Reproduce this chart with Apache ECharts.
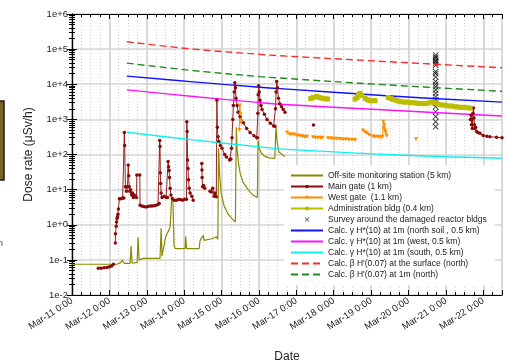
<!DOCTYPE html>
<html>
<head>
<meta charset="utf-8">
<script src="https://cdn.jsdelivr.net/npm/echarts@6/dist/echarts.min.js"></script>
<style>
  html, body { margin: 0; padding: 0; background: #fff; }
  #chart { width: 506px; height: 360px; }
</style>
</head>
<body>
<div id="chart"></div>
<script>
// time = hours since Mar-11 0:00
const dayLabels = ['Mar-11 0:00', 'Mar-12 0:00', 'Mar-13 0:00', 'Mar-14 0:00', 'Mar-15 0:00', 'Mar-16 0:00',
  'Mar-17 0:00', 'Mar-18 0:00', 'Mar-19 0:00', 'Mar-20 0:00', 'Mar-21 0:00', 'Mar-22 0:00'];
const decadeLabels = ['1e-2', '1e-1', '1e+0', '1e+1', '1e+2', '1e+3', '1e+4', '1e+5', '1e+6'];

const offsiteData = [
  [0, 0.075], [28.9, 0.075], [31.5, 0.085], [32.1, 0.1], [33.4, 0.08], [37.3, 0.08], [37.9, 0.25], [38.6, 0.08],
  [41.8, 0.085], [42.4, 0.44], [43.1, 0.1], [45.6, 0.11], [56.5, 0.11], [57.2, 0.8], [57.8, 0.13], [58.7, 0.14],
  [60.1, 0.45], [61.0, 0.55], [63.0, 0.85], [63.9, 5], [64.7, 6.3], [65.5, 0.26], [66.2, 0.21], [72.6, 0.21],
  [73.0, 0.46], [73.5, 0.21], [81.6, 0.21], [82.2, 0.36], [84.3, 0.5], [84.8, 0.36], [89.7, 0.4], [89.9, 0.36],
  [92.9, 0.45], [93.6, 0.38], [94.1, 150], [94.7, 30], [95.7, 8], [97.6, 3.5], [100.2, 2], [102.7, 1.5],
  [104.9, 1.2], [105.1, 15], [105.5, 600], [105.9, 150], [106.8, 60], [107.9, 30], [109.8, 16], [112.4, 11],
  [114.3, 8.5], [116.2, 7], [119.0, 6], [119.4, 250], [120.2, 150], [121.5, 110], [123.5, 90], [126.7, 80],
  [130.2, 78], [130.9, 600], [131.6, 250], [132.7, 120], [134.8, 100], [136.7, 87]
];

const mainGateData = [
  [16.9, 0.058], [18.7, 0.058], [20.6, 0.06], [22.5, 0.061], [24.1, 0.064], [25.4, 0.067], [26.6, 0.075], null,
  [27.8, 0.3], [27.9, 0.55], [28.4, 0.9], [28.6, 1.2], [28.9, 1.5], [29.2, 1.7], [29.5, 2.0], [29.8, 2.8],
  [30.4, 5.5], [31.5, 5.5], [32.5, 5.8], [33.3, 5.8], [33.6, 420], [33.8, 180], [34.3, 12], [35.0, 9],
  [35.6, 12], [36.1, 50], [36.4, 25], [36.7, 12], [37.1, 9], [37.6, 10], [38.2, 7], [38.8, 8], [39.4, 6],
  [40.0, 7], [41.4, 6], [41.6, 26], [43.5, 26], [43.7, 3.6], [44.8, 3.4], [46.0, 3.3], [47.3, 3.2], [48.6, 3.3],
  [50.0, 3.4], [51.3, 3.4], [52.6, 3.5], [53.9, 3.6], [55.2, 3.8], [56.0, 4.0], [56.3, 250], [56.5, 170],
  [56.7, 30], [56.9, 15], [57.2, 8], [57.8, 6], [59.1, 6.5], [60.4, 6], [61.3, 6], [61.7, 63], [62.0, 45],
  [62.3, 35], [62.6, 22], [63.0, 11], [63.5, 7], [64.4, 5.5], [65.7, 5], [67.0, 5], [68.3, 5.2], [69.6, 5.2],
  [70.9, 5], [72.2, 5.3], [73.5, 5.3], [73.7, 850], [73.9, 450], [74.2, 70], [74.5, 40], [74.8, 19], [75.2, 11],
  [75.8, 8], [76.9, 6.5], [77.8, 5], null,
  [83.3, 55], [83.4, 36], [83.5, 22], [83.8, 12], [84.5, 13], [85.2, 11], null,
  [88.6, 9], [89.5, 8.5], [90.3, 11], [91.2, 6.5], [91.8, 8], [92.6, 6.3], [93.0, 3500], [93.3, 600],
  [93.7, 320], [94.2, 240], [95.2, 180], [96.3, 150], [98.0, 100], [99.1, 85], [101.2, 70], [102.0, 75],
  [102.4, 150], [102.7, 300], [103.2, 1000], [103.6, 2500], [104.1, 6000], [104.5, 11000], [104.9, 8000],
  [105.3, 4000], [106.0, 2500], [106.6, 1600], [107.9, 1200], [110.0, 800], [112.1, 550], [114.3, 420],
  [116.8, 340], [118.6, 300], [119.0, 300], [119.3, 1500], [119.5, 5000], [119.8, 9000], [120.2, 6000],
  [120.7, 3500], [121.3, 2500], [122.0, 1900], [123.5, 1400], [125.2, 1000], [127.3, 780], [129.4, 650],
  [130.2, 640], [130.6, 2000], [131.0, 6000], [131.4, 12000], [131.9, 8000], [132.5, 4000], [133.3, 2800],
  [134.5, 2300], [135.6, 1900], [136.7, 1600], null,
  [155.0, 690], null,
  [255.7, 1000], [256.2, 1300], [256.4, 700], [256.8, 1000], [257.0, 550], [257.4, 1500], [257.7, 2100],
  [258.0, 1100], [258.3, 700], [258.6, 550], [259.1, 600], [259.7, 450], [260.5, 420], [261.8, 400],
  [263.9, 350], [266.3, 330], [268.2, 320], [272.5, 310], [276.0, 300]
];

const westGateData = [
  [107.4, 500], [107.7, 2500], [108.1, 1400], [108.5, 800], null,
  [138.0, 420], [139.6, 380], [141.2, 370], [142.8, 370], [144.5, 350], [146.1, 340], [147.7, 330],
  [149.3, 320], [150.9, 320], null,
  [154.7, 310], [156.3, 300], [157.9, 300], [159.5, 300], [160.8, 300], null,
  [164.3, 290], [166.3, 290], [168.2, 280], [170.1, 280], [172.0, 275], [174.0, 270], [175.9, 270],
  [177.8, 265], [179.7, 265], [181.7, 260], null,
  [186.8, 480], [188.1, 430], [189.4, 400], [190.7, 360], [193.2, 330], [194.8, 320], [196.4, 320],
  [198.0, 310], [199.3, 320], [199.8, 850], [200.1, 550], [200.5, 700], [200.9, 480], [201.4, 420],
  [202.0, 340], null,
  [220.8, 270]
];

const adminData = [
  [153.2, 3900], [154.7, 4200], [157.1, 4500], [158.6, 4200], [160.5, 4000], [162.4, 3900], [164.1, 3800], null,
  [181.7, 3800], [183.0, 4200], [183.8, 5000], [184.9, 5500], [186.2, 4800], [188.1, 4000], [189.7, 3600],
  [191.3, 3400], [192.9, 3400], [194.5, 3400], null,
  [203.0, 4200], [204.8, 3900], [206.4, 3700], [208.0, 3500], [209.6, 3300], [211.2, 3200], [213.1, 3100],
  [215.0, 3100], [217.0, 3000], [218.9, 3000], [220.8, 2900], [222.7, 2850], [224.7, 2800], [226.6, 2800],
  [228.5, 2900], [230.4, 3100], [232.4, 3000], [234.3, 2800], [236.2, 2600], [238.1, 2550], [240.1, 2500],
  [242.0, 2400], [243.9, 2400], [245.8, 2300], [247.7, 2250], [249.7, 2200], [251.6, 2200], [253.5, 2150],
  [255.5, 2100]
];

const surveyTime = 233.4;
const surveyValues = [68000, 60000, 55000, 48000, 44000, 39000, 35000, 23000, 20000, 16000, 12000, 10000,
  8500, 6900, 5500, 4400, 3600, 2900, 2300, 1650, 1200, 850, 620];

const calcTimes = [35.2, 77.9, 120.7, 133.5, 202, 276];
const gammaNorth = [17000, 11700, 8200, 7500, 4700, 3100];
const gammaWest = [6900, 4500, 3000, 2700, 1850, 1250];
const gammaSouth = [430, 260, 165, 145, 100, 78];
const betaSurface = [162000, 100000, 71000, 65000, 44000, 29500];
const betaOneMeter = [40000, 24500, 16500, 15000, 9600, 6300];

const FONT = 'Liberation Sans, Arial, sans-serif';
const pair = (ts, vs) => ts.map((t, i) => [t, vs[i]]);

const yMinor = [];
for (let e = -2; e < 6; e++) {
  for (let m = 2; m <= 9; m++) yMinor.push(+(m * Math.pow(10, e)).toPrecision(3));
}

const majorGrid = { show: true, lineStyle: { color: '#d4d4d4', width: 1.6 } };
const minorGrid = { show: true, lineStyle: { color: '#c8c8c8', width: 0.8, type: [1, 2] } };
const noSymbol = { opacity: 0 };

const chart = echarts.init(document.getElementById('chart'), null, { renderer: 'canvas' });

chart.setOption({
  animation: false,
  backgroundColor: '#fff',
  textStyle: { fontFamily: FONT },
  grid: { left: 72, right: 4, top: 14, bottom: 65, outerBoundsMode: 'none' },
  graphic: [
    { type: 'rect', shape: { x: -3, y: 101, width: 7, height: 79 },
      style: { fill: '#7a6420', stroke: '#1a1a1a', lineWidth: 1.5 } },
    { type: 'text', x: -2, y: 239, style: { text: 'n', fontSize: 9, fill: '#333', fontFamily: FONT } }
  ],
  legend: {
    orient: 'vertical',
    left: 284,
    top: 165,
    padding: [6, 8, 6, 6],
    backgroundColor: '#fff',
    itemWidth: 32,
    itemHeight: 4.5,
    itemGap: 2,
    textStyle: { fontSize: 8.5, color: '#222', fontFamily: FONT, lineHeight: 9 },
    data: [
      { name: 'Off-site monitoring station (5 km)', itemStyle: noSymbol },
      'Main gate (1 km)', 'West gate  (1.1 km)',
      'Administration bldg (0.4 km)', 'Survey around the damaged reactor bldgs',
      { name: 'Calc. γ H*(10) at 1m (north soil , 0.5 km)', itemStyle: noSymbol },
      { name: 'Calc. γ H*(10) at 1m (west, 0.5 km)', itemStyle: noSymbol },
      { name: 'Calc. γ H*(10) at 1m (south, 0.5 km)', itemStyle: noSymbol },
      { name: "Calc. β H'(0.07) at the surface (north)", itemStyle: noSymbol },
      { name: "Calc. β H'(0.07) at 1m (north)", itemStyle: noSymbol }
    ]
  },
  xAxis: [
    {
      type: 'value', position: 'bottom', min: 0, max: 276, interval: 24,
      name: 'Date', nameLocation: 'middle', nameGap: 56,
      nameTextStyle: { fontSize: 12, color: '#222', fontFamily: FONT },
      axisLine: { show: true, lineStyle: { color: '#000', width: 1.2 } },
      axisTick: { show: true, inside: true, length: 5, lineStyle: { color: '#000', width: 1 } },
      axisLabel: { rotate: 33, fontSize: 9.5, color: '#222', margin: 5, fontFamily: FONT,
        formatter: v => (v % 24 ? '' : dayLabels[v / 24]) },
      splitLine: majorGrid
    },
    {
      type: 'value', position: 'bottom', min: 0, max: 276, interval: 6,
      axisLine: { show: false }, axisLabel: { show: false },
      axisTick: { show: true, inside: true, length: 3, lineStyle: { color: '#000', width: 1 } },
      splitLine: minorGrid
    },
    {
      type: 'value', position: 'top', min: 0, max: 276, interval: 24,
      axisLine: { show: true, lineStyle: { color: '#000', width: 1.2 } },
      axisTick: { show: true, inside: true, length: 5, lineStyle: { color: '#000', width: 1 } },
      axisLabel: { show: false }, splitLine: { show: false }
    },
    {
      type: 'value', position: 'top', min: 0, max: 276, interval: 6,
      axisLine: { show: false }, axisLabel: { show: false },
      axisTick: { show: true, inside: true, length: 3, lineStyle: { color: '#000', width: 1 } },
      splitLine: { show: false }
    }
  ],
  yAxis: [
    {
      type: 'log', position: 'left', min: 0.01, max: 1e6, interval: 1,
      name: 'Dose rate (μSv/h)', nameLocation: 'middle', nameGap: 37,
      nameTextStyle: { fontSize: 12, color: '#222', fontFamily: FONT },
      axisLine: { show: true, lineStyle: { color: '#000', width: 1.2 } },
      axisTick: { show: true, inside: true, length: 5, lineStyle: { color: '#000', width: 1 } },
      axisLabel: { fontSize: 9.5, color: '#222', margin: 4, fontFamily: FONT,
        formatter: v => decadeLabels[Math.round(Math.log10(v)) + 2] },
      splitLine: majorGrid
    },
    {
      type: 'log', position: 'left', min: 0.01, max: 1e6,
      axisLine: { show: false }, axisLabel: { show: false },
      axisTick: { show: true, inside: true, length: 3, customValues: yMinor,
        lineStyle: { color: '#000', width: 1 } },
      splitLine: { show: false }
    },
    {
      type: 'log', position: 'right', min: 0.01, max: 1e6, interval: 1,
      axisLine: { show: true, lineStyle: { color: '#000', width: 1.2 } },
      axisTick: { show: true, inside: true, length: 5, lineStyle: { color: '#000', width: 1 } },
      axisLabel: { show: false }, splitLine: { show: false }
    },
    {
      type: 'log', position: 'right', min: 0.01, max: 1e6,
      axisLine: { show: false }, axisLabel: { show: false },
      axisTick: { show: true, inside: true, length: 3, customValues: yMinor,
        lineStyle: { color: '#000', width: 1 } },
      splitLine: { show: false }
    }
  ],
  series: [
    { name: 'Off-site monitoring station (5 km)', type: 'line', data: offsiteData, symbol: 'none',
      lineStyle: { color: '#8a8a00', width: 1.2 }, itemStyle: { color: '#8a8a00' } },
    { name: 'Main gate (1 km)', type: 'line', data: mainGateData, symbol: 'circle', symbolSize: 3.5,
      connectNulls: false, lineStyle: { color: '#8b0a0a', width: 0.9 }, itemStyle: { color: '#8b0a0a' } },
    { name: 'West gate  (1.1 km)', type: 'line', data: westGateData, symbol: 'triangle', symbolRotate: 180,
      symbolSize: 4, connectNulls: false, lineStyle: { color: '#ff8c00', width: 1 }, itemStyle: { color: '#ff8c00' } },
    { name: 'Administration bldg (0.4 km)', type: 'line', data: adminData, symbol: 'rect', symbolSize: 5,
      connectNulls: false, lineStyle: { color: '#bdbd00', width: 1 }, itemStyle: { color: '#bdbd00' } },
    { name: 'Survey around the damaged reactor bldgs', type: 'scatter',
      data: surveyValues.map(v => [surveyTime, v]),
      symbol: 'path://M0,1L1,0L5,4L9,0L10,1L6,5L10,9L9,10L5,6L1,10L0,9L4,5Z', symbolSize: 6,
      itemStyle: { color: '#000' } },
    { name: 'Calc. γ H*(10) at 1m (north soil , 0.5 km)', type: 'line', data: pair(calcTimes, gammaNorth),
      symbol: 'none', smooth: 0.4, lineStyle: { color: '#1010ff', width: 1.4 }, itemStyle: { color: '#1010ff' } },
    { name: 'Calc. γ H*(10) at 1m (west, 0.5 km)', type: 'line', data: pair(calcTimes, gammaWest),
      symbol: 'none', smooth: 0.4, lineStyle: { color: '#ff10ff', width: 1.4 }, itemStyle: { color: '#ff10ff' } },
    { name: 'Calc. γ H*(10) at 1m (south, 0.5 km)', type: 'line', data: pair(calcTimes, gammaSouth),
      symbol: 'none', smooth: 0.4, lineStyle: { color: '#10f0f0', width: 1.4 }, itemStyle: { color: '#10f0f0' } },
    { name: "Calc. β H'(0.07) at the surface (north)", type: 'line', data: pair(calcTimes, betaSurface),
      symbol: 'none', smooth: 0.4, lineStyle: { color: '#ff2a2a', width: 1.4, type: [7, 4] },
      itemStyle: { color: '#ff2a2a' } },
    { name: "Calc. β H'(0.07) at 1m (north)", type: 'line', data: pair(calcTimes, betaOneMeter),
      symbol: 'none', smooth: 0.4, lineStyle: { color: '#1e8c1e', width: 1.4, type: [7, 4] },
      itemStyle: { color: '#1e8c1e' } }
  ]
});
</script>
</body>
</html>
